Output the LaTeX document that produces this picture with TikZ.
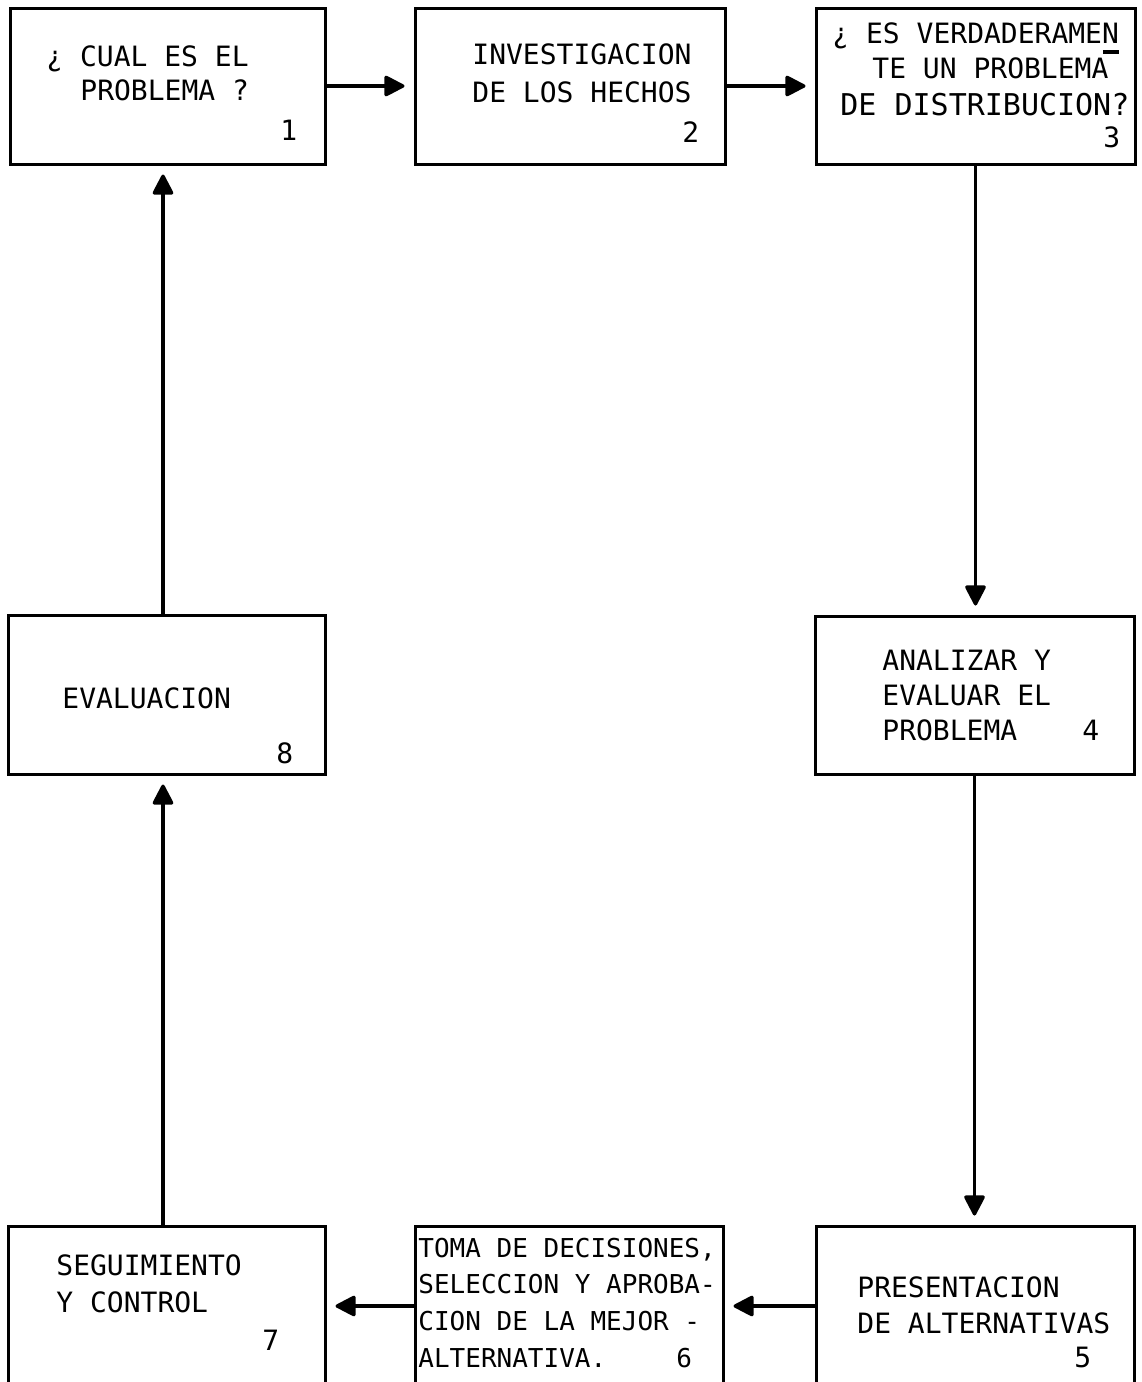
\documentclass[tikz,border=0pt]{standalone}
\usepackage{fontspec}
\setmonofont{DejaVu Sans Mono}
\usetikzlibrary{fit,arrows.meta}
\begin{document}
\begin{tikzpicture}[x=0.5pt,y=-0.5pt,
  box/.style={draw,line width=1.5pt,inner sep=0pt,rectangle},
  txt/.style={anchor=base west,inner sep=0pt,font=\ttfamily\fontsize{14}{16}\selectfont},
  txts/.style={txt,font=\ttfamily\fontsize{13}{15}\selectfont},
  txtl/.style={txt,font=\ttfamily\fontsize{15}{17}\selectfont},
  arr/.style={line width=1.6pt,-{Triangle[length=11pt,width=11pt,round]},shorten >=4.5pt}]
\useasboundingbox (0,0) rectangle (1141,1382);
\clip (0,0) rectangle (1141,1382);
% boxes
\node[box,fit={(10,8) (325,164)}] (b1) {};
\node[box,fit={(415,8) (725,164)}] (b2) {};
\node[box,fit={(816,8) (1135,164)}] (b3) {};
\node[box,fit={(815,616) (1134,774)}] (b4) {};
\node[box,fit={(816,1226) (1134,1420)}] (b5) {};
\node[box,fit={(415,1226) (723,1420)}] (b6) {};
\node[box,fit={(8,1226) (325,1420)}] (b7) {};
\node[box,fit={(8,615) (325,774)}] (b8) {};
% texts
\node[txt] (t1a) at (46,66) {¿ CUAL ES EL};
\node[txt] (t1b) at (80,100) {PROBLEMA ?};
\node[txt] (t1n) at (280,140) {1};
\node[txt] (t2a) at (472,64) {INVESTIGACION};
\node[txt] (t2b) at (472,102) {DE LOS HECHOS};
\node[txt] (t2n) at (682,142) {2};
\node[txt] (t3a) at (832,43) {¿ ES VERDADERAMEN};
\node[txt] (t3b) at (872,78) {TE UN PROBLEMA};
\node[txtl] (t3c) at (840,115) {DE DISTRIBUCION?};
\node[txt] (t3n) at (1103,147) {3};
\draw[line width=1.8pt] ([xshift=-8pt,yshift=-4.5pt]t3a.base east) -- ([yshift=-4.5pt]t3a.base east);
\node[txt] (t4a) at (882,670) {ANALIZAR Y};
\node[txt] (t4b) at (882,705) {EVALUAR EL};
\node[txt] (t4c) at (882,740) {PROBLEMA};
\node[txt] (t4n) at (1082,740) {4};
\node[txt] (t8a) at (62,708) {EVALUACION};
\node[txt] (t8n) at (276,763) {8};
\node[txt] (t5a) at (857,1297) {PRESENTACION};
\node[txt] (t5b) at (857,1333) {DE ALTERNATIVAS};
\node[txt] (t5n) at (1074,1367) {5};
\node[txts] (t6a) at (418,1257) {TOMA DE DECISIONES,};
\node[txts] (t6b) at (418,1293) {SELECCION Y APROBA-};
\node[txts] (t6c) at (418,1330) {CION DE LA MEJOR -};
\node[txts] (t6d) at (418,1367) {ALTERNATIVA.};
\node[txts] (t6n) at (676,1367) {6};
\node[txt] (t7a) at (56,1275) {SEGUIMIENTO};
\node[txt] (t7b) at (56,1312) {Y CONTROL};
\node[txt] (t7n) at (262,1350) {7};
% connectors
\coordinate (rowb) at (0,1306);
\coordinate (colL) at (163,0);
\draw[arr] (b1.east) -- (b2.west);
\draw[arr] (b2.east) -- (b3.west);
\draw[arr] (b3.south) -- (b3.south |- b4.north);
\draw[arr] (b4.south) -- (b4.south |- b5.north);
\draw[arr] (b5.west |- rowb) -- (b6.east |- rowb);
\draw[arr] (b6.west |- rowb) -- (b7.east |- rowb);
\draw[arr] (b7.north -| colL) -- (b8.south -| colL);
\draw[arr] (b8.north -| colL) -- (b1.south -| colL);
\end{tikzpicture}
\end{document}
